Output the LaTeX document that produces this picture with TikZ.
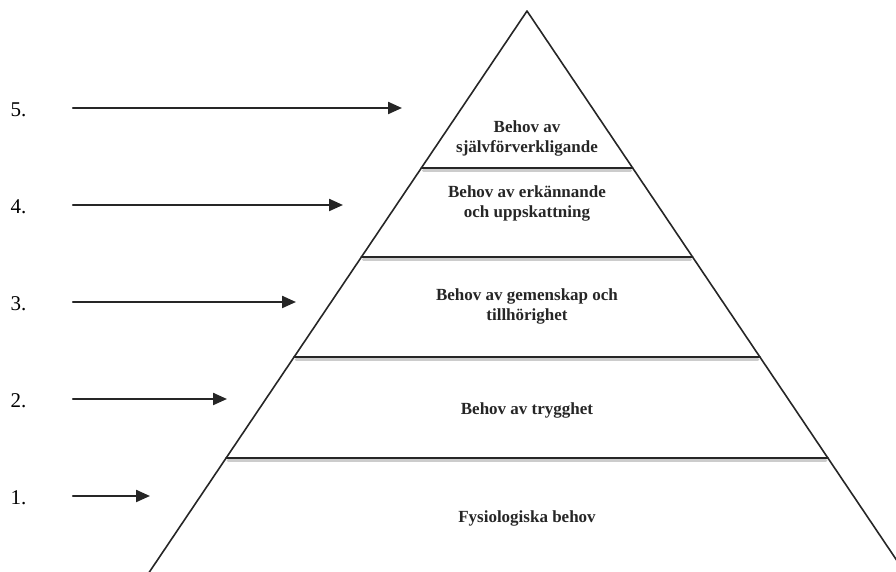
\documentclass[tikz,border=0pt]{standalone}
\usepackage{fontspec}
\setmainfont{Liberation Serif}
\usetikzlibrary{arrows.meta}
\usetikzlibrary{calc}
\definecolor{edgegray}{rgb}{0.15, 0.15, 0.15}
\definecolor{shadegray}{rgb}{0.8, 0.8, 0.8}

\tikzset{
  numlabel/.style={font=\fontsize{21}{24}\selectfont, text=black},
  levellabel/.style={font=\fontsize{17}{20}\selectfont\bfseries, text=black!85, align=center},
  levelarrow/.style={line width=2.2pt, color=edgegray, -{Triangle[length=14pt,width=12pt]}},
  layerline/.style={line width=2pt, color=edgegray},
  layershade/.style={line width=3pt, color=shadegray}
}

\begin{document}
\begin{tikzpicture}[line cap=round,line join=round,x=1pt,y=1pt]
\useasboundingbox (0,0) rectangle (896,572);
\clip (0,0) rectangle (896,572);
% pyramid
\coordinate (apex) at (527,561);
\coordinate (bl) at (149.4,0);
\coordinate (br) at (904.6,0);
\foreach \t in {0.2799,0.4385,0.6168,0.7968}{
\draw [layershade] ($(apex)!\t!(bl)+(2,-2.8)$)-- ($(apex)!\t!(br)+(-2,-2.8)$);
\draw [layerline] ($(apex)!\t!(bl)$)-- ($(apex)!\t!(br)$);
}
\draw [line width=1.6pt, color=edgegray] ($(apex)!1.1!(bl)$)-- (apex)-- ($(apex)!1.1!(br)$);
% texts of the levels
\node [levellabel] (self) at (527,434) {Behov av\\självförverkligande};
\node [levellabel] (esteem) at (527,369) {Behov av erkännande\\och uppskattning};
\node [levellabel] (belong) at (527,265.5) {Behov av gemenskap och\\tillhörighet};
\node [levellabel] (safety) at (527,162) {Behov av trygghet};
\node [levellabel] (phys) at (527,54) {Fysiologiska behov};
% numbers and arrows
\foreach \n/\y/\e in {5/464/402,4/367/343,3/270/296,2/173/227,1/76/150}{
\node [numlabel, anchor=west] (num\n) at (7,\y-1.5) {\n.};
\coordinate (tip\n) at (\e,\y);
\draw [levelarrow] (73,\y)-- (tip\n);
}
\end{tikzpicture}
\end{document}
